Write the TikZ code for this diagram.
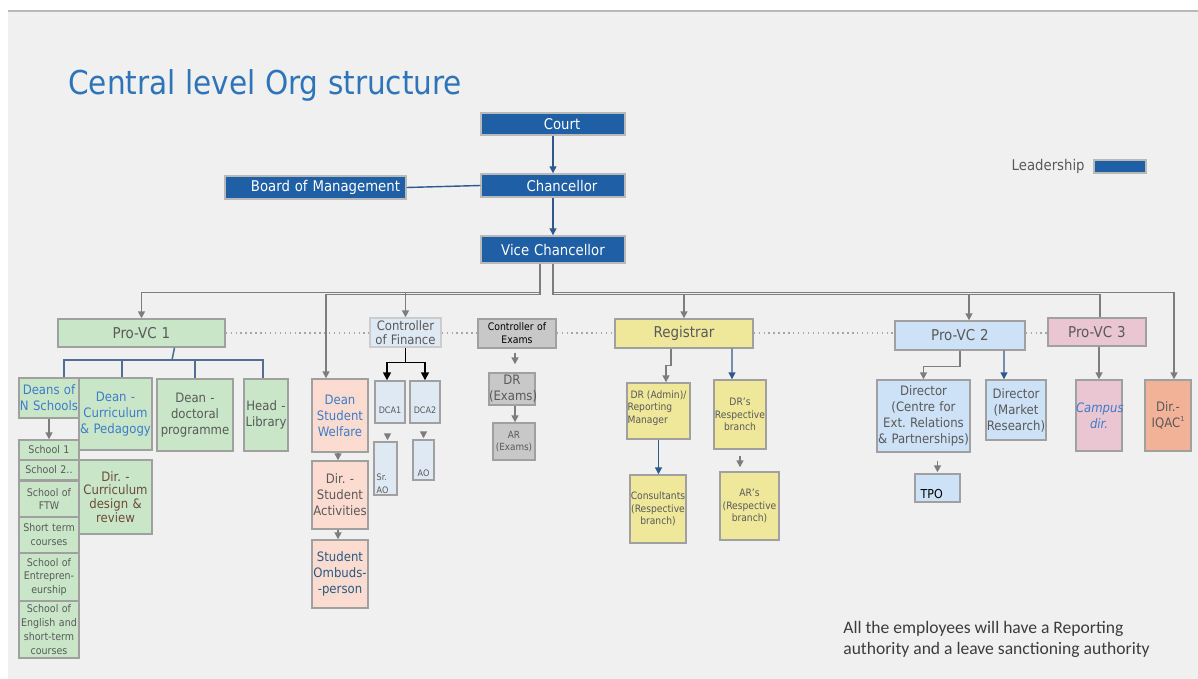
\documentclass[tikz,border=0pt]{standalone}
\usepackage{fontspec}
\setmainfont{DejaVu Sans Condensed}
\newfontfamily\notefont{Carlito}
\usetikzlibrary{arrows.meta}
\frenchspacing
\definecolor{bgc}{RGB}{240,240,240}
\definecolor{leadblue}{RGB}{31,95,166}
\definecolor{titleblue}{RGB}{46,116,185}
\definecolor{txtgray}{RGB}{89,89,89}
\definecolor{txtblue}{RGB}{61,124,201}
\definecolor{boxgray}{RGB}{160,160,160}
\definecolor{linegray}{RGB}{125,125,125}
\definecolor{lineblue}{RGB}{47,90,143}
\definecolor{barblue}{RGB}{80,110,150}
\definecolor{greenf}{RGB}{201,231,200}
\definecolor{coff}{RGB}{222,233,244}
\definecolor{grayf}{RGB}{200,200,200}
\definecolor{yellowf}{RGB}{239,232,155}
\definecolor{bluef}{RGB}{205,226,246}
\definecolor{pinkf}{RGB}{234,198,211}
\definecolor{salmonf}{RGB}{252,220,208}
\definecolor{orangef}{RGB}{242,178,151}
\definecolor{browntxt}{RGB}{110,75,55}
\definecolor{ombtxt}{RGB}{40,90,130}
\definecolor{notetxt}{RGB}{60,60,60}
\begin{document}
\begin{tikzpicture}[x=0.02cm,y=-0.02cm,
  box/.style={draw=boxgray, line width=0.8pt, inner sep=0pt, align=center, text=txtgray},
  sz/.style 2 args={minimum width=#1*0.02cm, text width=#1*0.02cm, minimum height=#2*0.02cm},
  lead/.style={box, fill=leadblue, text=white, draw=gray!55, font=\fontsize{8.4}{9}\selectfont},
  fA/.style={font=\fontsize{8.5}{10}\selectfont},
  fB/.style={font=\fontsize{7.4}{9.1}\selectfont},
  fC/.style={font=\fontsize{6}{7.9}\selectfont},
  fR/.style={font=\fontsize{5.8}{7.1}\selectfont},
  fD/.style={font=\fontsize{5.1}{7}\selectfont},
  gline/.style={draw=linegray, line width=0.9pt},
  garrow/.style={gline, -{Triangle[width=4pt,length=4pt]}},
  barrow/.style={draw=lineblue, line width=0.8pt, -{Triangle[width=4pt,length=4pt]}},
  karrow/.style={draw=black, line width=0.9pt, -{Triangle[width=4.5pt,length=4.5pt]}},
  bline/.style={draw=barblue, line width=0.9pt},
  dotl/.style={draw=gray!70, dotted, line width=0.8pt},
  lbl/.style={inner sep=0pt, align=left, text=txtgray}]
\useasboundingbox (0,0) rectangle (1198,679);
\fill[white] (0,0) rectangle (1198,679);
\fill[bgc] (8,11) rectangle (1198,679);
\draw[gray!55, line width=0.8pt] (8,11) -- (1198,11);

\node[anchor=base west, inner sep=0pt, text=titleblue, font=\fontsize{18.7}{22}\selectfont] (title) at (68,95) {Central level Org structure};

% leadership
\node[lead, sz={144}{22}] (court) at (553,124) {\hspace*{0.36cm}Court};
\node[lead, sz={144}{23}] (chan) at (553,185.5) {\hspace*{0.36cm}Chancellor};
\node[lead, sz={144}{27}] (vc) at (553,249.5) {Vice Chancellor};
\node[lead, sz={181}{23}] (bom) at (315.5,187.5) {\hspace*{0.4cm}Board of Management};
\node[box, fill=leadblue, draw=gray!55, sz={52}{13}] (legbox) at (1120,166.5) {};
\node[anchor=east, inner sep=0pt, text=txtgray, font=\fontsize{8.4}{9}\selectfont] (leg) at (1085,166) {Leadership};

% second row
\node[box, fill=greenf, sz={167}{28}, fA] (provc1) at (141.5,333) {Pro-VC 1};
\node[box, fill=coff, draw=gray!40, sz={71}{29}, font=\fontsize{7.4}{8}\selectfont] (cof) at (405.5,332.5) {Controller\\of Finance};
\node[box, fill=grayf, sz={78}{29}, font=\fontsize{5.9}{7.4}\selectfont, text=black] (coe) at (517,333.5) {Controller of\\Exams};
\node[box, fill=yellowf, sz={138}{29}, fA] (reg) at (684,333.5) {Registrar};
\node[box, fill=bluef, sz={130}{29}, fA] (provc2) at (960,335.5) {Pro-VC 2};
\node[box, fill=pinkf, sz={98}{28}, fA] (provc3) at (1097,332) {Pro-VC 3};

% Pro-VC 1 children
\node[box, fill=greenf, sz={60}{40}, fB, text=txtblue] (deans) at (49,398) {Deans of\\N Schools};
\node[box, fill=greenf, sz={73}{72}, fB, text=txtblue] (deancp) at (115.5,414) {Dean -\\Curriculum\\\& Pedagogy};
\node[box, fill=greenf, sz={76}{72}, fB] (deandoc) at (195,415) {Dean -\\doctoral\\programme};
\node[box, fill=greenf, sz={44}{72}, fB] (headlib) at (266,415) {Head -\\Library};
\node[box, fill=greenf, sz={60}{20}, fC] (s1) at (49,450) {School 1};
\node[box, fill=greenf, sz={60}{20}, fC] (s2) at (49,470) {School 2..};
\node[box, fill=greenf, sz={60}{36}, fC] (s3) at (49,499) {School of\\FTW};
\node[box, fill=greenf, sz={60}{36}, fC] (s4) at (49,535) {Short term\\courses};
\node[box, fill=greenf, sz={60}{48}, fC] (s5) at (49,577) {School of\\Entrepren-\\eurship};
\node[box, fill=greenf, sz={60}{57}, fC] (s6) at (49,629.5) {School of\\English and\\short-term\\courses};
\node[box, fill=greenf, sz={73}{74}, font=\fontsize{7.4}{7.8}\selectfont, text=browntxt] (dircdr) at (115.5,497) {Dir. -\\Curriculum\\design \&\\review};

% student welfare column
\node[box, fill=salmonf, sz={56}{73}, fB, text=txtblue] (dsw) at (340,415.5) {Dean\\Student\\Welfare};
\node[box, fill=salmonf, sz={56}{68}, fB] (dsa) at (340,495) {Dir. -\\Student\\Activities};
\node[box, fill=salmonf, sz={56}{68}, fB, text=ombtxt] (ombud) at (340,574) {Student\\Ombuds-\\-person};

% finance
\node[box, fill=coff, sz={30}{42}, label={[lbl, fD, anchor=south, yshift=0.2cm]south:DCA1}] (dca1) at (390,402) {};
\node[box, fill=coff, sz={30}{42}, label={[lbl, fD, anchor=south, yshift=0.2cm]south:DCA2}] (dca2) at (425,402) {};
\node[box, fill=coff, sz={23}{53}, label={[lbl, fD, anchor=south west, xshift=0.06cm, yshift=0.04cm]south west:Sr.\\AO}] (srao) at (385.5,468.5) {};
\node[box, fill=coff, sz={21}{40}, label={[lbl, fD, anchor=south, yshift=0.08cm]south:AO}] (ao) at (423.5,460) {};

% exams
\node[box, fill=grayf, sz={46}{32}, fB] (drex) at (512,389) {DR\\(Exams)};
\node[box, fill=grayf, sz={42}{37}, font=\fontsize{5.6}{7}\selectfont] (arex) at (514,441.5) {AR\\(Exams)};

% registrar
\node[box, fill=yellowf, sz={63}{56}, label={[lbl, fR, anchor=north west, xshift=0.02cm, yshift=-0.16cm]north west:\hspace*{0.06cm}DR (Admin)/\\Reporting\\Manager}] (dradmin) at (658.5,411) {};
\node[box, fill=yellowf, sz={52}{69}, fR] (drs) at (740,414.5) {DR's\\Respective\\branch};
\node[box, fill=yellowf, sz={56}{68}, fR] (cons) at (658,509) {Consultants\\(Respective\\branch)};
\node[box, fill=yellowf, sz={59}{68}, fR] (ars) at (749.5,506) {AR's\\(Respective\\branch)};

% pro-vc 2
\node[box, fill=bluef, sz={93}{72}, fB] (dirext) at (923.5,416) {Director\\(Centre for\\Ext. Relations\\\& Partnerships)};
\node[box, fill=bluef, sz={60}{60}, fB] (dirmr) at (1016,410) {Director\\(Market\\Research)};
\node[box, fill=bluef, sz={45}{28}, label={[lbl, font=\fontsize{7}{8}\selectfont, text=black, anchor=south west, xshift=0.12cm, yshift=0.08cm]south west:TPO}] (tpo) at (937.5,488) {};

% pro-vc 3 and IQAC
\node[box, fill=pinkf, sz={46}{71}, text=txtblue, font=\fontsize{7.4}{9.1}\selectfont\itshape] (campus) at (1099,415.5) {Campus\\dir.};
\node[box, fill=orangef, sz={46}{71}, fB] (iqac) at (1168,415.5) {Dir.-\\IQAC\raisebox{0.9ex}{\fontsize{4}{4}\selectfont 1}};

% note
\node[anchor=north west, inner sep=0pt, align=left, text=notetxt, font=\notefont\fontsize{10}{12}\selectfont] (note) at (843,621) {All the employees will have a Reporting\\authority and a leave sanctioning authority};

% --- connectors ---
\draw[barrow] (court.south) -- (chan.north);
\draw[barrow] (chan.south) -- (vc.north);
\draw[draw=lineblue, line width=0.8pt] (bom.east) -- (chan.west);

% bus from VC
\draw[garrow] ([xshift=-0.26cm]vc.south) -- ++(0,29) -| (provc1.north);
\draw[garrow] ([xshift=-0.26cm]vc.south) -- ++(0,31) -| ([xshift=-0.28cm]dsw.north);
\draw[garrow] ([xshift=-0.26cm]vc.south) -- ++(0,29) -| (cof.north);
\draw[garrow] (vc.south) -- ++(0,31) -| (reg.north);
\draw[garrow] (vc.south) -- ++(0,31) -| ([xshift=0.18cm]provc2.north);
\draw[gline] (vc.south) -- ++(0,31) -| ([xshift=0.06cm]provc3.north);
\draw[garrow] (vc.south) -- ++(0,29) -| ([xshift=0.12cm]iqac.north);

% dotted peer line
\draw[dotl] (provc1.east) -- (provc1.east -| cof.west);
\draw[dotl] (cof.east |- provc1.east) -- (provc1.east -| coe.west);
\draw[dotl] (coe.east |- provc1.east) -- (provc1.east -| reg.west);
\draw[dotl] (reg.east |- provc1.east) -- (provc1.east -| provc2.west);
\draw[dotl] (provc2.east |- provc1.east) -- (provc1.east -| provc3.west);

% Pro-VC 1 tree
\coordinate (p1bar) at (172,360);
\draw[bline] ([xshift=0.66cm]provc1.south) -- (p1bar);
\draw[bline] ([xshift=0.3cm]deans.north) |- ([xshift=-0.06cm]headlib.north |- p1bar) -- ([xshift=-0.06cm]headlib.north);
\draw[bline] ([xshift=0.13cm]deancp.north) -- ([xshift=0.13cm]deancp.north |- p1bar);
\draw[bline] (deandoc.north) -- (deandoc.north |- p1bar);
\draw[garrow] (deans.south) -- (s1.north);

% student welfare
\draw[garrow] ([xshift=-0.04cm]dsw.south) -- ([xshift=-0.04cm]dsa.north);
\draw[garrow] ([xshift=-0.04cm]dsa.south) -- ([xshift=-0.04cm]ombud.north);

% finance
\draw[karrow] (cof.south) -- ++(0,15) -| ([xshift=-0.06cm]dca1.north);
\draw[karrow] (cof.south) -- ++(0,15) -| (dca2.north);
\draw[garrow, shorten <=0.2cm, shorten >=0.02cm] ([xshift=-0.05cm]dca1.south) -- ([xshift=-0.05cm]dca1.south |- srao.north);
\draw[garrow, shorten <=0.2cm, shorten >=0.02cm] (dca2.south -| ao.north) -- (ao.north);

% exams
\draw[garrow, shorten <=0.08cm, shorten >=0.16cm] ([xshift=-0.04cm]coe.south) -- ([xshift=-0.04cm]coe.south |- drex.north);
\draw[garrow] ([xshift=0.06cm]drex.south) -- ([xshift=0.06cm]drex.south |- arex.north);

% registrar
\draw[garrow] ([xshift=-0.26cm]reg.south) -- ++(0,17) -| ([xshift=0.15cm]dradmin.north);
\draw[barrow] ([xshift=0.96cm]reg.south) -- ([xshift=-0.16cm]drs.north);
\draw[barrow] (dradmin.south) -- (dradmin.south |- cons.north);
\draw[garrow, shorten <=0.12cm, shorten >=0.08cm] (drs.south) -- (drs.south |- ars.north);

% pro-vc 2
\draw[garrow] (provc2.south) -- ++(0,16) -| (dirext.north);
\draw[barrow] ([xshift=0.88cm]provc2.south) -- ([xshift=-0.24cm]dirmr.north);
\draw[garrow, shorten <=0.16cm, shorten >=0.02cm] (tpo.north |- dirext.south) -- (tpo.north);

% pro-vc 3
\draw[garrow] (campus.north |- provc3.south) -- (campus.north);
\end{tikzpicture}
\end{document}
